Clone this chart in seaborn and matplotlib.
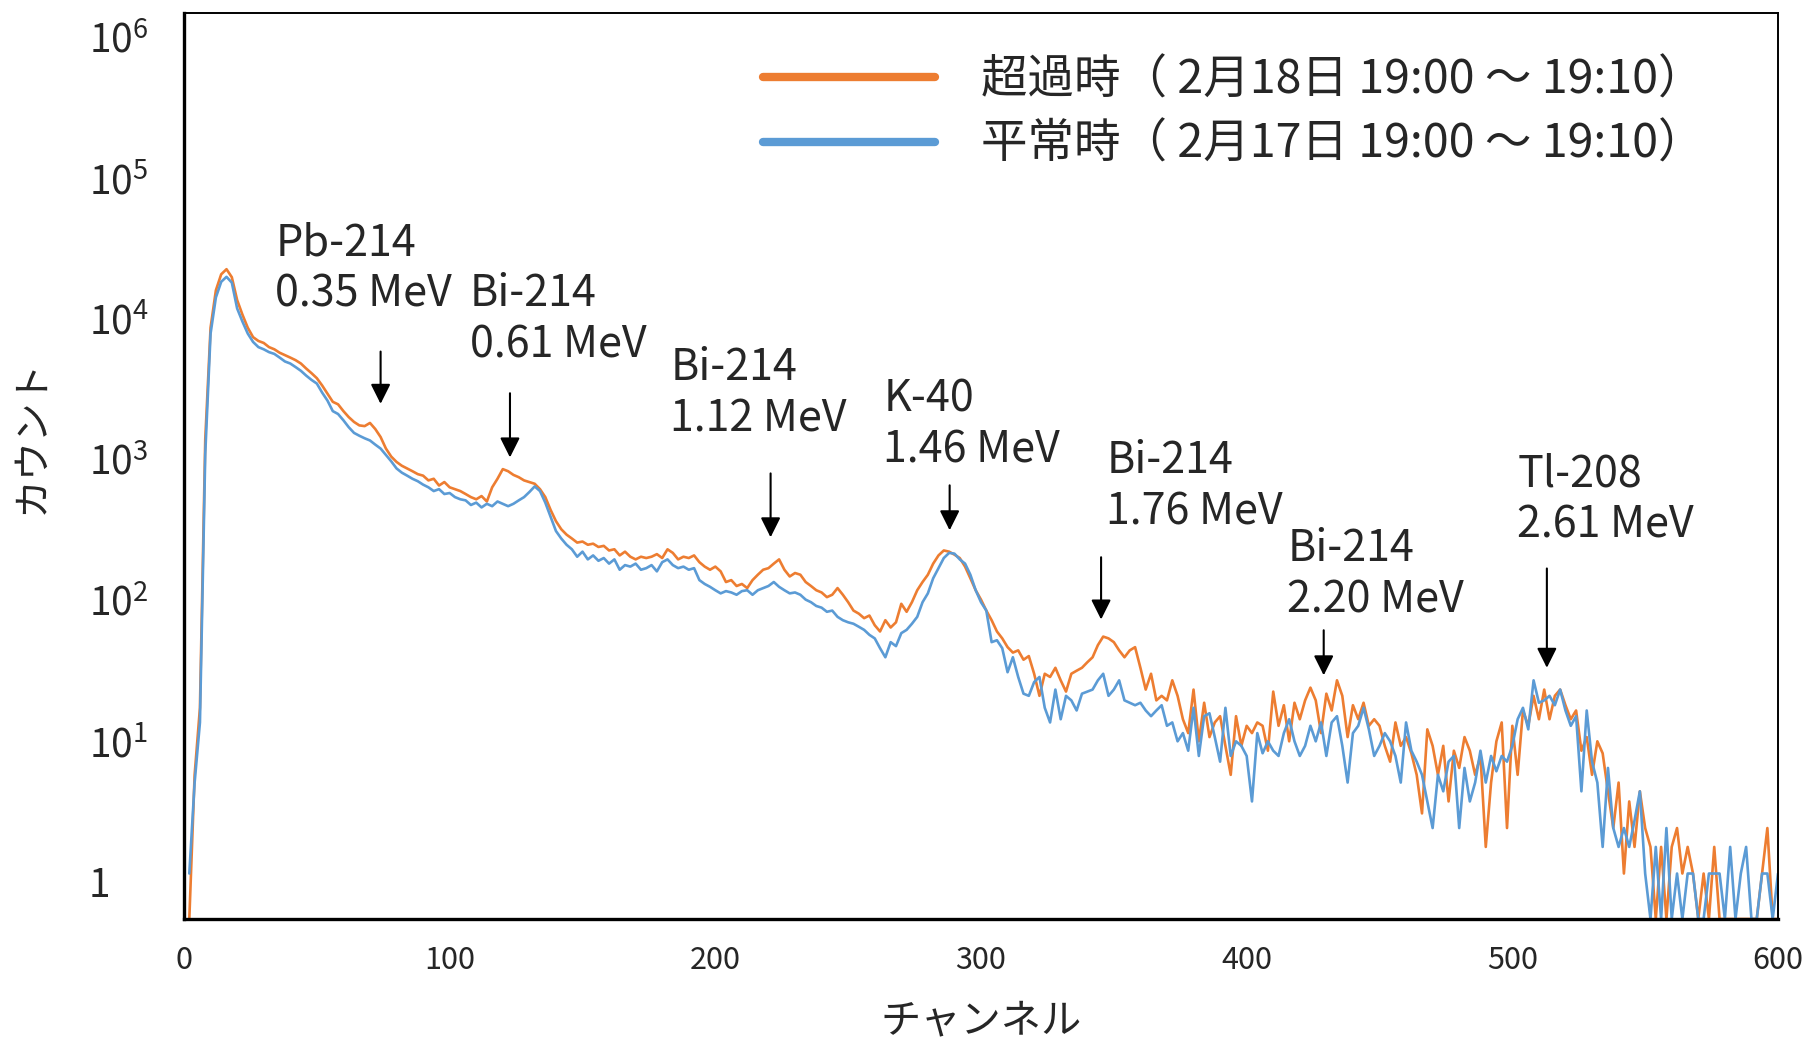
import matplotlib
matplotlib.use("Agg")
import matplotlib.pyplot as plt
import seaborn as sns
import pandas as pd

# channel grid (every 2nd channel)
channels = list(range(2, 601, 2))

# 超過時 (2/18 19:00-19:10)
excess_counts = [
    1, 9, 25, 1500, 8200, 14500, 18500, 20000, 17700, 12500,
    10000, 8200, 7100, 6700, 6500, 6100, 5900, 5600, 5400, 5200,
    5000, 4750, 4400, 4100, 3800, 3400, 3000, 2650, 2550, 2300,
    2100, 1950, 1850, 1830, 1920, 1750, 1550, 1300, 1150, 1060,
    1000, 960, 920, 880, 860, 800, 820, 740, 780, 720,
    700, 680, 650, 620, 600, 630, 580, 720, 820, 950,
    920, 870, 840, 800, 780, 760, 700, 620, 510, 430,
    380, 350, 330, 310, 315, 300, 305, 290, 295, 275,
    280, 255, 270, 250, 240, 250, 245, 250, 260, 245,
    280, 265, 240, 250, 245, 255, 230, 215, 205, 215,
    200, 170, 175, 160, 165, 155, 175, 190, 205, 210,
    225, 240, 205, 185, 195, 190, 170, 160, 150, 145,
    135, 140, 155, 140, 125, 110, 105, 98, 102, 88,
    80, 95, 85, 92, 122, 108, 125, 150, 170, 190,
    225, 255, 275, 270, 258, 245, 215, 180, 150, 130,
    110, 95, 80, 72, 63, 58, 60, 52, 55, 42,
    30, 42, 40, 46, 38, 32, 42, 44, 46, 50,
    54, 65, 74, 72, 68, 60, 54, 60, 63, 46,
    33, 42, 28, 30, 28, 38, 30, 21, 17, 33,
    15, 27, 16, 20, 22, 14, 9, 22, 14, 19,
    17, 20, 19, 13, 32, 19, 26, 15, 27, 21,
    28, 34, 28, 17, 31, 24, 38, 30, 16, 26,
    21, 27, 19, 21, 19, 14, 11, 20, 14, 16,
    12.5, 9, 5, 18, 14, 9, 14, 6, 13, 10,
    16, 13, 9, 12, 3, 8, 15, 20, 4, 19,
    9, 24, 19, 30, 21, 33, 21, 30, 33, 26,
    21, 24, 13, 16, 9, 15, 12.5, 7, 4, 8,
    2, 6, 3, 7, 4, 3, 1, 3, 1, 3,
    4, 2, 3, 2, 1, 2, 1, 3, 1, 1,
    1, 1, 1, 1, 1, 1, 2, 4, 1, 1,
]

# 平常時 (2/17 19:00-19:10)
normal_counts = [
    2, 8, 20, 1200, 7500, 13000, 16500, 17800, 16300, 11000,
    9000, 7500, 6600, 6100, 5900, 5650, 5500, 5200, 4900, 4750,
    4500, 4250, 3950, 3700, 3500, 3050, 2700, 2300, 2200, 2000,
    1800, 1650, 1580, 1520, 1470, 1380, 1300, 1180, 1070, 960,
    900, 860, 820, 790, 750, 720, 680, 700, 650, 660,
    620, 600, 590, 550, 570, 530, 560, 540, 580, 560,
    540, 560, 590, 620, 670, 730, 680, 570, 460, 370,
    330, 300, 280, 250, 270, 240, 255, 235, 245, 225,
    240, 205, 220, 215, 225, 205, 210, 220, 200, 230,
    240, 220, 210, 215, 205, 210, 175, 165, 158, 150,
    143, 148, 145, 140, 148, 150, 140, 150, 155, 160,
    170, 158, 150, 143, 145, 140, 130, 125, 118, 115,
    108, 110, 100, 95, 92, 90, 86, 82, 76, 72,
    62, 54, 68, 64, 78, 82, 90, 100, 125, 143,
    180, 210, 245, 265, 262, 240, 225, 190, 150, 125,
    110, 68, 70, 62, 43, 54, 40, 31, 30, 37,
    40, 25, 20, 33, 21, 30, 28, 24, 31, 32,
    33, 38, 42, 30, 33, 38, 28, 27, 26, 27,
    24, 22, 24, 26, 19, 20, 15, 17, 13, 25,
    12, 22, 23, 16, 11, 25, 12, 15, 14, 12,
    6, 17, 12.5, 15, 13, 12, 17, 21, 15, 12,
    14, 19, 15, 20, 12, 20, 22, 14, 8, 17,
    19, 25, 18, 12, 14, 17, 15, 12, 8, 20,
    13, 11, 9, 6, 4, 9, 7, 11, 12, 4,
    10, 6, 8, 13, 8, 12, 9.5, 12, 11, 14,
    21, 25, 18, 38, 27, 28, 30, 26, 33, 24,
    19, 22, 7, 24, 11, 8, 3, 10, 4, 3,
    4, 3, 4.5, 7, 2, 1, 3, 1, 4, 1,
    2, 1, 2, 2, 1, 1, 2, 2, 2, 1,
    3, 1, 2, 3, 1, 1, 2, 2, 1, 2,
]

series_labels = ["超過時（ 2月18日 19:00 ～ 19:10）", "平常時（ 2月17日 19:00 ～ 19:10）"]
series_colors = ["#ED7D31", "#5B9BD5"]

# peak annotations
peak_labels = ["Pb-214\n0.35 MeV", "Bi-214\n0.61 MeV", "Bi-214\n1.12 MeV", "K-40\n1.46 MeV",
               "Bi-214\n1.76 MeV", "Bi-214\n2.20 MeV", "Tl-208\n2.61 MeV"]
arrow_ch = [74, 122.7, 220.8, 288.2, 345.2, 429, 513]
arrow_tip = [2570, 1135, 336, 374, 96, 41, 46]
arrow_tail = [5700, 3020, 890, 742, 248, 81.5, 209]
label_ch = [34.3, 107.7, 183, 263.2, 347.1, 415.3, 501.9]
label_y = [11300, 5210, 1690, 1053, 410, 107, 336]   # baseline of the lower line

ytick_vals = [1, 10, 100, 1000, 1e4, 1e5, 1e6]
ytick_text = ["1", r"$\mathregular{10^{1}}$", r"$\mathregular{10^{2}}$", r"$\mathregular{10^{3}}$",
              r"$\mathregular{10^{4}}$", r"$\mathregular{10^{5}}$", r"$\mathregular{10^{6}}$"]
xtick_vals = [0, 100, 200, 300, 400, 500, 600]

sns.set_style("white")
plt.rcParams['font.family'] = ['Noto Sans CJK JP', 'DejaVu Sans']
plt.rcParams['mathtext.fontset'] = 'custom'
plt.rcParams['mathtext.rm'] = 'Noto Sans CJK JP'

df = pd.DataFrame({"channel": channels, "excess": excess_counts, "normal": normal_counts})

fig = plt.figure(figsize=(18.05, 10.38), dpi=100)
ax = fig.add_axes([0.10194, 0.11464, 0.88310, 0.87331])

sns.lineplot(data=df, x="channel", y="excess", color=series_colors[0], lw=1.9,
             estimator=None, label=series_labels[0], ax=ax)
sns.lineplot(data=df, x="channel", y="normal", color=series_colors[1], lw=1.9,
             estimator=None, label=series_labels[1], ax=ax)

ax.set_yscale("log")
ax.set_xlim(0, 600)
ax.set_ylim(1, 1e6)
ax.set_xticks(xtick_vals)
ax.set_xticklabels([str(v) for v in xtick_vals], fontsize=22)
ax.set_yticks(ytick_vals)
ax.set_yticklabels([])
ax.minorticks_off()
ax.tick_params(axis="both", direction="in", length=7, width=1.5, color="black")
ax.tick_params(axis="x", pad=19)

for side in ["left", "bottom"]:
    ax.spines[side].set_linewidth(2.4)
for side in ["top", "right"]:
    ax.spines[side].set_linewidth(1.4)
for sp in ax.spines.values():
    sp.set_color("black")

# y labels are loose text boxes in the original, slightly off the ticks
for i, txt in enumerate(ytick_text):
    fig.text(0.0493, 0.1358 + i * 0.13565, txt, fontsize=28, ha="left", va="baseline")

ax.set_xlabel("チャンネル", fontsize=29, labelpad=17)
ax.set_ylabel("カウント", fontsize=28, va="center")
ax.yaxis.set_label_coords(-0.0954, 0.532)

for lab, ac, tip, tail, lc, ly in zip(peak_labels, arrow_ch, arrow_tip, arrow_tail, label_ch, label_y):
    ax.annotate("", xy=(ac, tip), xytext=(ac, tail),
                arrowprops=dict(arrowstyle="-|>", color="black", lw=1.5,
                                mutation_scale=30, shrinkA=0, shrinkB=0))
    ax.text(lc, ly, lab, fontsize=31, ha="left", va="baseline", linespacing=1.21)

leg = ax.legend(loc="upper left", bbox_to_anchor=(0.363, 0.952), frameon=False, fontsize=33.5,
                handlelength=3.7, handletextpad=1.0, labelspacing=0.34, borderpad=0,
                borderaxespad=0)
for h in leg.get_lines():
    h.set_linewidth(6)

fig.savefig("out.png", dpi=100)
